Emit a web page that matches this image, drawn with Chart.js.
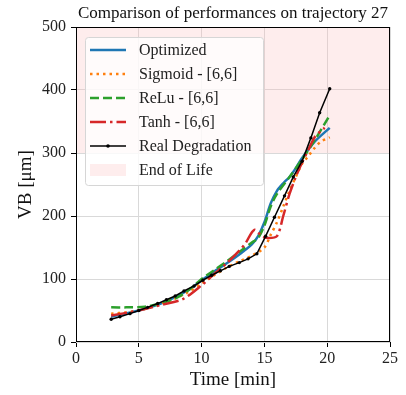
<!DOCTYPE html>
<html>
<head>
<meta charset="utf-8">
<script src="https://cdn.jsdelivr.net/npm/chart.js@4.4.1/dist/chart.umd.min.js"></script>
<style>
  html, body { margin: 0; padding: 0; background: #fff; }
  #wrap { width: 406px; height: 395px; }
</style>
</head>
<body>
<div id="wrap"><canvas id="myChart" width="406" height="395"></canvas></div>
<script>
// time axis samples (min) and wear values (um)
const realTime = [2.8, 3.5, 4.3, 5.0, 5.7, 6.5, 7.2, 7.9, 8.6, 9.4, 10.1, 10.8, 11.5, 12.2, 13.0, 13.7, 14.4, 15.1, 15.8, 16.6, 17.3, 18.0, 18.7, 19.4, 20.2];
const realVB = [36, 40, 45, 50, 55, 61, 67, 73, 81, 89, 98, 106, 113, 120, 126, 132, 140, 168, 198, 232, 262, 287, 324, 364, 402];

const optTime = [2.8, 5, 7, 9, 10, 11, 12, 13, 14, 14.5, 15, 15.5, 16, 16.5, 17, 17.5, 18, 19, 20.2];
const optVB = [40, 50, 63, 83, 98, 112, 125, 139, 155, 168, 190, 220, 240, 252, 262, 276, 292, 318, 340];

const sigTime = [2.8, 4, 5, 6, 7, 8, 9, 10, 11, 12, 13, 14, 15, 15.5, 16, 16.5, 17, 17.5, 18, 18.5, 19, 19.5, 20.2];
const sigVB = [45, 47, 50, 56, 63, 70, 80, 93, 106, 118, 128, 137, 150, 170, 190, 215, 240, 262, 283, 295, 308, 318, 325];

const reluTime = [2.8, 4, 5.5, 7, 8, 9, 10, 11, 12, 13, 14, 14.5, 15, 15.5, 16, 17, 18, 19, 20.2];
const reluVB = [55, 55, 56, 63, 70, 83, 100, 114, 128, 143, 158, 165, 185, 215, 235, 262, 290, 320, 360];

const tanhTime = [2.8, 5, 7, 8.5, 10, 11, 12, 13, 13.5, 14.2, 14.8, 15.3, 16.0, 16.5, 17, 17.5, 18, 18.5, 19, 19.5, 19.8];
const tanhVB = [42, 50, 60, 68, 90, 108, 125, 145, 157, 178, 168, 165, 168, 200, 235, 262, 285, 305, 325, 335, 340];

const eolStart = 300;
const xTicks = [0, 5, 10, 15, 20, 25];
const yTicks = [0, 100, 200, 300, 400, 500];
const chartTitle = "Comparison of performances on trajectory 27";

const serif = "'Liberation Serif', 'DejaVu Serif', serif";
const eolColor = "rgba(250, 190, 190, 0.28)";

function pts(xs, ys) {
  return xs.map((x, i) => ({ x: x, y: ys[i] }));
}

const legendItems = [
  { label: "Optimized", color: "#1f77b4", dash: [], width: 2.5 },
  { label: "Sigmoid - [6,6]", color: "#ff7f0e", dash: [2.5, 4], width: 2.5 },
  { label: "ReLu - [6,6]", color: "#2ca02c", dash: [9, 4], width: 2.5 },
  { label: "Tanh - [6,6]", color: "#d62728", dash: [16, 4, 2.5, 4], width: 2.5 },
  { label: "Real Degradation", color: "#000000", dash: [], width: 1.5, marker: true },
  { label: "End of Life", patch: eolColor },
];

// frame, title and legend box inside the plot
const framePlugin = {
  id: "frame",
  afterDatasetsDraw(chart) {
    const ctx = chart.ctx;
    const a = chart.chartArea;
    ctx.save();
    ctx.strokeStyle = "#000";
    ctx.lineWidth = 1;
    ctx.strokeRect(a.left + 0.5, a.top + 0.5, a.right - a.left - 1, a.bottom - a.top - 1);

    ctx.fillStyle = "#111";
    ctx.font = "17px " + serif;
    ctx.textAlign = "center";
    ctx.textBaseline = "middle";
    ctx.fillText(chartTitle, (a.left + a.right) / 2, 14);
    ctx.textAlign = "left";

    // legend
    const bx = a.left + 9, by = a.top + 10, bw = 178, bh = 148;
    ctx.beginPath();
    ctx.roundRect(bx + 0.5, by + 0.5, bw, bh, 3);
    ctx.fillStyle = "rgba(255,255,255,0.8)";
    ctx.fill();
    ctx.strokeStyle = "#d6d6d6";
    ctx.stroke();

    ctx.font = "16px " + serif;
    legendItems.forEach((it, i) => {
      const cy = by + 13 + i * 24;
      const x0 = bx + 5, x1 = bx + 41;
      if (it.patch) {
        ctx.fillStyle = it.patch;
        ctx.fillRect(x0, cy - 6, x1 - x0, 12);
      } else {
        ctx.beginPath();
        ctx.setLineDash(it.dash);
        ctx.strokeStyle = it.color;
        ctx.lineWidth = it.width;
        ctx.moveTo(x0, cy);
        ctx.lineTo(x1, cy);
        ctx.stroke();
        ctx.setLineDash([]);
        if (it.marker) {
          ctx.beginPath();
          ctx.fillStyle = it.color;
          ctx.arc((x0 + x1) / 2, cy, 1.8, 0, Math.PI * 2);
          ctx.fill();
        }
      }
      ctx.fillStyle = "#222";
      ctx.fillText(it.label, bx + 54, cy + 1);
    });
    ctx.restore();
  },
};

function drawChart() {
  const ctx = document.getElementById("myChart").getContext("2d");
  const config = {
    type: "line",
    data: {
      datasets: [
        {
          label: "Real Degradation",
          data: pts(realTime, realVB),
          borderColor: "#000",
          backgroundColor: "#000",
          borderWidth: 1.5,
          pointRadius: 1.7,
          pointBorderWidth: 0,
          order: 0,
        },
        {
          label: "Tanh - [6,6]",
          data: pts(tanhTime, tanhVB),
          borderColor: "#d62728",
          borderWidth: 2.5,
          borderDash: [16, 4, 2.5, 4],
          pointRadius: 0,
          tension: 0.3,
          order: 1,
        },
        {
          label: "ReLu - [6,6]",
          data: pts(reluTime, reluVB),
          borderColor: "#2ca02c",
          borderWidth: 2.5,
          borderDash: [9, 4],
          pointRadius: 0,
          tension: 0.3,
          order: 2,
        },
        {
          label: "Sigmoid - [6,6]",
          data: pts(sigTime, sigVB),
          borderColor: "#ff7f0e",
          borderWidth: 2.5,
          borderDash: [2.5, 4],
          pointRadius: 0,
          tension: 0.3,
          order: 3,
        },
        {
          label: "Optimized",
          data: pts(optTime, optVB),
          borderColor: "#1f77b4",
          borderWidth: 2.5,
          pointRadius: 0,
          tension: 0.3,
          order: 4,
        },
        {
          label: "End of Life",
          data: [{ x: 0, y: eolStart }, { x: 25, y: eolStart }],
          borderWidth: 0,
          borderColor: "rgba(0,0,0,0)",
          backgroundColor: eolColor,
          pointRadius: 0,
          fill: "end",
          order: 10,
        },
      ],
    },
    options: {
      responsive: false,
      animation: false,
      layout: { padding: { top: 27, right: 16, left: 0, bottom: 0 } },
      plugins: {
        legend: { display: false },
        tooltip: { enabled: false },
        title: { display: false },
      },
      scales: {
        x: {
          type: "linear",
          min: 0,
          max: 25,
          afterBuildTicks: (s) => { s.ticks = xTicks.map((v) => ({ value: v })); },
          afterFit: (s) => { s.height = 53; },
          grid: { color: "#d9d9d9", tickColor: "#000", tickLength: 5 },
          border: { display: false },
          ticks: { color: "#222", font: { family: serif, size: 16 }, padding: 2, maxRotation: 0 },
          title: {
            display: true,
            text: "Time [min]",
            color: "#111",
            font: { family: serif, size: 19 },
            padding: { top: 0 },
          },
        },
        y: {
          type: "linear",
          min: 0,
          max: 500,
          afterBuildTicks: (s) => { s.ticks = yTicks.map((v) => ({ value: v })); },
          afterFit: (s) => { s.width = 76; },
          grid: { color: "#d9d9d9", tickColor: "#000", tickLength: 5 },
          border: { display: false },
          ticks: { color: "#222", font: { family: serif, size: 16 }, padding: 5 },
          title: {
            display: true,
            text: "VB [μm]",
            color: "#111",
            font: { family: serif, size: 19 },
            padding: { top: 15, bottom: 0 },
          },
        },
      },
    },
    plugins: [framePlugin],
  };
  const myChart = new Chart(ctx, config);
}

document.addEventListener("DOMContentLoaded", drawChart);
</script>
</body>
</html>
